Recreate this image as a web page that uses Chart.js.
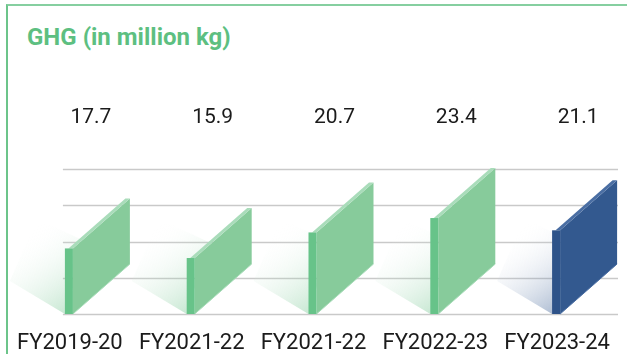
<!DOCTYPE html>
<html>
<head>
<meta charset="utf-8">
<script src="https://cdn.jsdelivr.net/npm/chart.js@4/dist/chart.umd.min.js"></script>
<style>
  html, body { margin: 0; padding: 0; background: #fff; overflow: hidden; }
  #wrap { position: relative; width: 627px; height: 354px; }
  #frame {
    position: absolute; left: 6px; top: 4px; width: 700px; height: 400px;
    border-top: 2px solid #86cfa0; border-left: 2px solid #6cc48a;
  }
  #title {
    position: absolute; left: 27px; top: 23px;
    font: bold 24px Roboto, sans-serif; color: #5dbf81;
  }
  canvas { position: absolute; left: 0; top: 0; }
</style>
</head>
<body>
<div id="wrap">
  <div id="frame"></div>
  <div id="title">GHG (in million kg)</div>
  <canvas id="ghgChart" width="627" height="354"></canvas>
</div>
<script>
const categories = ["FY2019-20", "FY2021-22", "FY2021-22", "FY2022-23", "FY2023-24"];
const ghgValues = [17.7, 15.9, 20.7, 23.4, 21.1];
const axisMin = 5.4;
const axisMax = 32.6;
const axisStep = 6.8;

const green = { face: "#87cb9b", front: "#67c389", top: "#a9dcba", shadow: "rgba(105,192,135,0.36)" };
const blue = { face: "#33598f", front: "#2e5389", top: "#4a6ea3", shadow: "rgba(50,88,143,0.38)" };

// skewed "3D" slab drawn over each (invisible) bar element
const slabBars = {
  id: "slabBars",
  beforeDatasetsDraw(chart) {
    const ctx = chart.ctx;
    const y = chart.scales.y;
    const meta = chart.getDatasetMeta(0);
    const left = meta.data[0].x - 7;
    ctx.save();
    ctx.strokeStyle = "#c9c9c9";
    ctx.lineWidth = 1.5;
    y.ticks.forEach(t => {
      const py = Math.round(y.getPixelForValue(t.value)) + 0.5;
      ctx.beginPath();
      ctx.moveTo(left, py);
      ctx.lineTo(chart.chartArea.right, py);
      ctx.stroke();
    });
    ctx.restore();
  },
  afterDatasetsDraw(chart) {
    const ctx = chart.ctx;
    const y = chart.scales.y;
    const meta = chart.getDatasetMeta(0);
    const fw = 8, dx = 57, dy = 50;
    // bars stand on the lowest visible value, not on zero
    const b = y.getPixelForValue(y.min);
    ctx.save();
    meta.data.forEach((el, i) => {
      const c = i === meta.data.length - 1 ? blue : green;
      const f = el.x - 5;
      const top = el.y;

      // shadow on the ground, fading out to the left
      const g = ctx.createLinearGradient(f - 45, b - 75, f + 5, b - 5);
      g.addColorStop(0, "rgba(255,255,255,0)");
      g.addColorStop(1, c.shadow);
      ctx.fillStyle = g;
      ctx.beginPath();
      ctx.moveTo(f, b);
      ctx.lineTo(f - 55, b - 33);
      ctx.lineTo(f - 28, b - 95);
      ctx.lineTo(f + 22, b - 72);
      ctx.closePath();
      ctx.fill();

      // side face
      ctx.fillStyle = c.face;
      ctx.beginPath();
      ctx.moveTo(f + fw, top);
      ctx.lineTo(f + fw + dx, top - dy);
      ctx.lineTo(f + fw + dx, b - dy);
      ctx.lineTo(f + fw, b);
      ctx.closePath();
      ctx.fill();

      // thin lit edge along the bottom of the face
      ctx.strokeStyle = c.top;
      ctx.lineWidth = 1;
      ctx.beginPath();
      ctx.moveTo(f + fw, b);
      ctx.lineTo(f + fw + dx, b - dy);
      ctx.stroke();

      // top band
      ctx.fillStyle = c.top;
      ctx.beginPath();
      ctx.moveTo(f + fw - 4.5, top);
      ctx.lineTo(f + fw + dx - 4.5, top - dy);
      ctx.lineTo(f + fw + dx, top - dy);
      ctx.lineTo(f + fw, top);
      ctx.closePath();
      ctx.fill();

      // narrow front face
      ctx.fillStyle = c.front;
      ctx.fillRect(f, top, fw, b - top);
    });

    // value labels on one row above the bars
    ctx.fillStyle = "#1b1b1b";
    ctx.font = "21px Roboto, sans-serif";
    ctx.textAlign = "center";
    ctx.textBaseline = "middle";
    meta.data.forEach((el, i) => {
      ctx.fillText(ghgValues[i].toFixed(1), el.x + 21, 118);
    });
    ctx.restore();
  }
};

new Chart(document.getElementById("ghgChart"), {
  type: "bar",
  data: {
    labels: categories,
    datasets: [{
      label: "GHG",
      data: ghgValues,
      backgroundColor: "rgba(0,0,0,0)",
      borderWidth: 0
    }]
  },
  options: {
    responsive: false,
    animation: false,
    layout: { padding: { top: 169, left: 9, right: 9, bottom: 0 } },
    plugins: { legend: { display: false }, tooltip: { enabled: false } },
    scales: {
      x: {
        grid: { display: false, drawTicks: false },
        border: { display: false },
        ticks: {
          color: "#1b1b1b",
          font: { family: "Roboto", size: 22 },
          padding: 16,
          maxRotation: 0,
          autoSkip: false
        },
        afterFit: s => { s.height = 40; }
      },
      y: {
        display: false,
        min: axisMin,
        max: axisMax,
        ticks: { stepSize: axisStep }
      }
    }
  },
  plugins: [slabBars]
});
</script>
</body>
</html>
